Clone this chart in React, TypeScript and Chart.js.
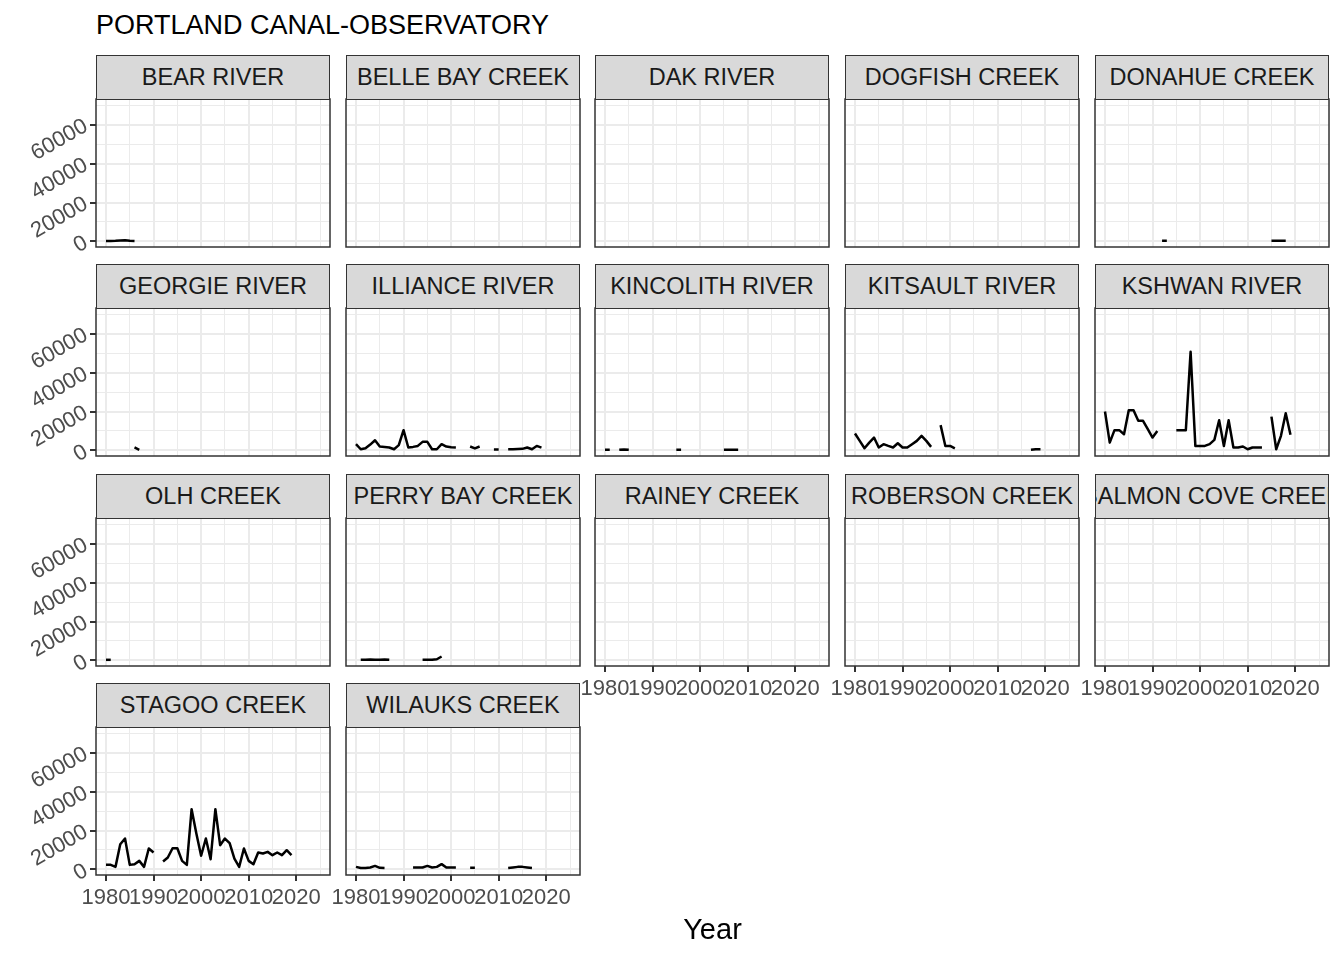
import React, { useEffect, useRef } from 'react';
import { Chart, registerables } from 'chart.js';

Chart.register(...registerables);

const FONT = '"Liberation Sans", Arial, Helvetica, sans-serif';
Chart.defaults.font.family = FONT;

const TITLE = 'PORTLAND CANAL-OBSERVATORY';
const X_TITLE = 'Year';

const _ = null;

const YEARS = [
  1980, 1981, 1982, 1983, 1984, 1985, 1986, 1987, 1988, 1989,
  1990, 1991, 1992, 1993, 1994, 1995, 1996, 1997, 1998, 1999,
  2000, 2001, 2002, 2003, 2004, 2005, 2006, 2007, 2008, 2009,
  2010, 2011, 2012, 2013, 2014, 2015, 2016, 2017, 2018, 2019,
];

const X_TICKS = [1980, 1985, 1990, 1995, 2000, 2005, 2010, 2015, 2020, 2025];
const X_LABELS = ['1980', '1990', '2000', '2010', '2020'];
const Y_TICKS = [0, 10000, 20000, 30000, 40000, 50000, 60000, 70000];
const Y_LABELS = ['0', '20000', '40000', '60000'];
const X_MIN = 1977.9;
const X_MAX = 2027.1;
const Y_MIN = -2880;
const Y_MAX = 73220;

const RIVERS = [
  'BEAR RIVER', 'BELLE BAY CREEK', 'DAK RIVER', 'DOGFISH CREEK', 'DONAHUE CREEK',
  'GEORGIE RIVER', 'ILLIANCE RIVER', 'KINCOLITH RIVER', 'KITSAULT RIVER', 'KSHWAN RIVER',
  'OLH CREEK', 'PERRY BAY CREEK', 'RAINEY CREEK', 'ROBERSON CREEK', 'SALMON COVE CREEK',
  'STAGOO CREEK', 'WILAUKS CREEK',
];

const BEAR_RIVER = [
  200, 200, 300, 500, 600, 300, 200, _, _, _,
];
const BELLE_BAY_CREEK: (number | null)[] = [];
const DAK_RIVER: (number | null)[] = [];
const DOGFISH_CREEK: (number | null)[] = [];
const DONAHUE_CREEK = [
  _, _, _, _, _, _, _, _, _, _,
  _, _, 300, 300, _, _, _, _, _, _,
  _, _, _, _, _, _, _, _, _, _,
  _, _, _, _, _, 300, 300, 300, 300, _,
];
const GEORGIE_RIVER = [
  _, _, _, _, _, _, 1500, 300, _, _,
];
const ILLIANCE_RIVER = [
  3200, 600, 1100, 3000, 5200, 2000, 1800, 1500, 600, 2700,
  10400, 1500, 1800, 2300, 4400, 4400, 600, 600, 3200, 2000,
  1600, 1500, _, _, 2000, 1000, 2000, _, _, 500,
  500, _, 600, 600, 700, 800, 1500, 600, 2300, 1400,
];
const KINCOLITH_RIVER = [
  300, 300, _, 300, 500, 300, _, _, _, _,
  _, _, _, _, _, 300, 300, _, _, _,
  _, _, _, _, _, 300, 300, 300, 300, _,
];
const KITSAULT_RIVER = [
  8700, 4900, 1100, 4000, 6600, 1500, 3200, 2300, 1500, 3700,
  1500, 1500, 3200, 4900, 7500, 4900, 1800, _, 13000, 2300,
  2300, 1100, _, _, _, _, _, _, _, _,
  _, _, _, _, _, _, _, 300, 600, 600,
];
const KSHWAN_RIVER = [
  20000, 4000, 10400, 10400, 8300, 20700, 20700, 15200, 15200, 10900,
  6600, 10000, _, _, _, 10400, 10400, 10400, 50700, 2300,
  2300, 2300, 3200, 5400, 15500, 2300, 15500, 1500, 1500, 2000,
  600, 1500, 1500, 1500, _, 17400, 600, 7500, 19100, 8000,
];
const OLH_CREEK = [
  300, 300, _, _, _, _, _, _, _, _,
];
const PERRY_BAY_CREEK = [
  _, 300, 300, 400, 300, 300, 400, 300, _, _,
  _, _, _, _, 300, 300, 300, 600, 2000, _,
];
const RAINEY_CREEK: (number | null)[] = [];
const ROBERSON_CREEK: (number | null)[] = [];
const SALMON_COVE_CREEK: (number | null)[] = [];
const STAGOO_CREEK = [
  2330, 2330, 1300, 12960, 15870, 2330, 2670, 4390, 1300, 10730,
  8680, _, 4040, 6100, 10900, 10900, 4390, 2330, 30950, 18440,
  7000, 15870, 5250, 30950, 12440, 15870, 13470, 5590, 1300, 10730,
  4390, 2670, 8680, 8160, 9020, 7300, 8680, 7300, 9870, 7300,
];
const WILAUKS_CREEK = [
  1300, 700, 700, 1000, 1800, 800, 700, _, _, _,
  _, _, 1000, 1000, 1000, 1800, 1000, 1300, 2700, 1000,
  1000, 1000, _, _, 800, 800, _, _, _, _,
  _, _, 700, 1000, 1300, 1300, 1000, 700, _, _,
];

const SERIES: (number | null)[][] = [
  BEAR_RIVER, BELLE_BAY_CREEK, DAK_RIVER, DOGFISH_CREEK, DONAHUE_CREEK,
  GEORGIE_RIVER, ILLIANCE_RIVER, KINCOLITH_RIVER, KITSAULT_RIVER, KSHWAN_RIVER,
  OLH_CREEK, PERRY_BAY_CREEK, RAINEY_CREEK, ROBERSON_CREEK, SALMON_COVE_CREEK,
  STAGOO_CREEK, WILAUKS_CREEK,
];

// layout
const NCOL = 5;
const PLOT_LEFTS = [96, 346, 595, 845, 1095];
const PLOT_TOPS = [99, 308, 518, 727];
const PLOT_W = 234;
const PLOT_H = 148;
const STRIP_H = 44;

const panelBorder = {
  id: 'panelBorder',
  afterDraw(chart: any) {
    const { ctx, chartArea } = chart;
    ctx.save();
    ctx.strokeStyle = '#333333';
    ctx.lineWidth = 1.5;
    ctx.strokeRect(chartArea.left, chartArea.top, chartArea.right - chartArea.left, chartArea.bottom - chartArea.top);
    ctx.restore();
  },
};

function Panel({ index }: { index: number }) {
  const ref = useRef<HTMLCanvasElement>(null);
  const col = index % NCOL;
  const row = Math.floor(index / NCOL);
  const showY = col === 0;
  const showX = index + NCOL >= RIVERS.length;
  const padL = showY ? PLOT_LEFTS[0] : 22;
  const padR = 22;
  const padT = 30;
  const axisH = showX ? 46 : 26;
  const plotLeft = PLOT_LEFTS[col];
  const plotTop = PLOT_TOPS[row];

  useEffect(() => {
    if (!ref.current) return;
    const values = SERIES[index];
    const chart = new Chart(ref.current, {
      type: 'line',
      data: {
        datasets: [
          {
            data: YEARS.map((yr, i) => ({ x: yr, y: values[i] ?? null })),
            borderColor: '#000000',
            borderWidth: 2.5,
            pointRadius: 0,
            pointHoverRadius: 0,
            tension: 0,
            spanGaps: false,
            fill: false,
            borderJoinStyle: 'round',
            borderCapStyle: 'butt',
          } as any,
        ],
      },
      options: {
        animation: false,
        responsive: true,
        maintainAspectRatio: false,
        devicePixelRatio: 1,
        events: [],
        layout: { padding: { left: 0, right: padR, top: padT, bottom: 0 } },
        plugins: {
          legend: { display: false },
          tooltip: { enabled: false },
          title: { display: false },
        },
        scales: {
          x: {
            type: 'linear',
            min: X_MIN,
            max: X_MAX,
            afterBuildTicks: (s: any) => {
              s.ticks = X_TICKS.map((v) => ({ value: v }));
            },
            afterFit: (s: any) => {
              s.height = axisH;
            },
            border: { display: false },
            grid: {
              color: '#EBEBEB',
              lineWidth: (c: any) => (X_LABELS.includes(String(c.tick?.value)) ? 2 : 1),
              drawTicks: showX,
              tickLength: 6,
              tickWidth: 2,
              tickColor: (c: any) => (X_LABELS.includes(String(c.tick?.value)) ? '#333333' : 'rgba(0,0,0,0)'),
            },
            ticks: {
              display: showX,
              autoSkip: false,
              minRotation: 0,
              maxRotation: 0,
              padding: 4,
              color: '#4D4D4D',
              font: { family: FONT, size: 22 },
              callback: (v: any) => (X_LABELS.includes(String(v)) ? String(v) : ''),
            },
          },
          y: {
            type: 'linear',
            min: Y_MIN,
            max: Y_MAX,
            afterBuildTicks: (s: any) => {
              s.ticks = Y_TICKS.map((v) => ({ value: v }));
            },
            afterFit: (s: any) => {
              s.width = padL;
            },
            border: { display: false },
            grid: {
              color: '#EBEBEB',
              lineWidth: (c: any) => (Y_LABELS.includes(String(c.tick?.value)) ? 2 : 1),
              drawTicks: showY,
              tickLength: 6,
              tickWidth: 2,
              tickColor: (c: any) => (Y_LABELS.includes(String(c.tick?.value)) ? '#333333' : 'rgba(0,0,0,0)'),
            },
            ticks: {
              display: showY,
              autoSkip: false,
              minRotation: 30,
              maxRotation: 30,
              padding: 4,
              color: '#4D4D4D',
              font: { family: FONT, size: 22 },
              callback: (v: any) => (Y_LABELS.includes(String(v)) ? String(v) : ''),
            },
          },
        },
      } as any,
      plugins: [panelBorder],
    });
    return () => chart.destroy();
  }, [index]);

  return (
    <>
      <div
        style={{
          position: 'absolute',
          left: plotLeft - padL,
          top: plotTop - padT,
          width: padL + PLOT_W + padR,
          height: padT + PLOT_H + axisH,
        }}
      >
        <canvas ref={ref} style={{ display: 'block' }} />
      </div>
      <div
        style={{
          position: 'absolute',
          left: plotLeft,
          top: plotTop - STRIP_H,
          width: PLOT_W,
          height: STRIP_H + 1,
          boxSizing: 'border-box',
          background: '#D9D9D9',
          border: '1.5px solid #333333',
          display: 'flex',
          alignItems: 'center',
          justifyContent: 'center',
          overflow: 'hidden',
          whiteSpace: 'nowrap',
          fontFamily: FONT,
          fontSize: 23.5,
          color: '#1A1A1A',
        }}
      >
        <span>{RIVERS[index]}</span>
      </div>
    </>
  );
}

export default function App() {
  return (
    <div
      style={{
        position: 'absolute',
        left: 0,
        top: 0,
        width: 1344,
        height: 960,
        background: '#FFFFFF',
        overflow: 'hidden',
      }}
    >
      <div
        style={{
          position: 'absolute',
          left: 96,
          top: 12,
          fontFamily: FONT,
          fontSize: 27,
          lineHeight: 1,
          color: '#000000',
          whiteSpace: 'nowrap',
        }}
      >
        {TITLE}
      </div>
      {RIVERS.map((_r, i) => (
        <Panel key={i} index={i} />
      ))}
      <div
        style={{
          position: 'absolute',
          left: 0,
          width: 1425,
          top: 915,
          textAlign: 'center',
          fontFamily: FONT,
          fontSize: 29,
          lineHeight: 1,
          color: '#000000',
        }}
      >
        {X_TITLE}
      </div>
    </div>
  );
}
